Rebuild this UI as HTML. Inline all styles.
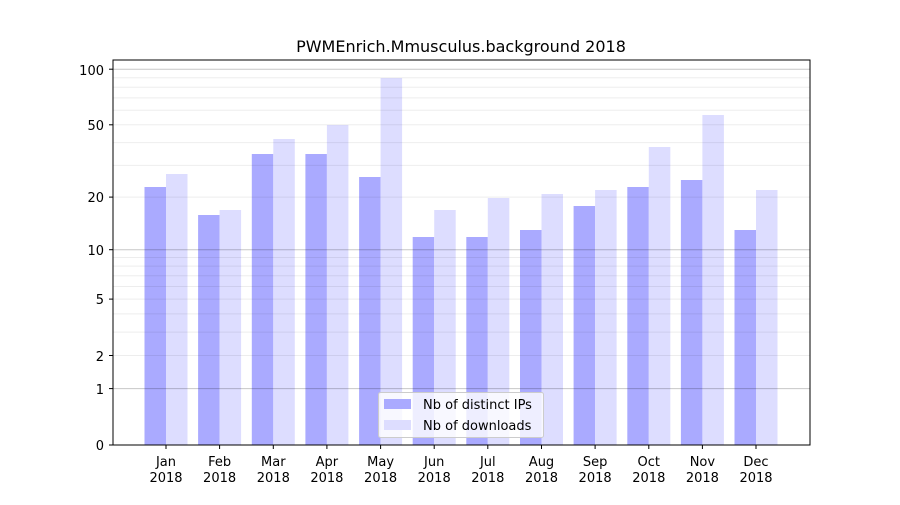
<!DOCTYPE html>
<html><head><meta charset="utf-8"><style>
body{margin:0;background:#fff}
text{font-family:"DejaVu Sans","Liberation Sans",sans-serif;font-size:13px;fill:#000}
</style></head><body>
<svg width="900" height="500" xmlns="http://www.w3.org/2000/svg">
<rect width="900" height="500" fill="#fff"/>
<text x="461" y="52" text-anchor="middle" font-size="16" style="font-size:16px">PWMEnrich.Mmusculus.background 2018</text>
<g>
<!-- bars: tops -->
<g fill="#aaaaff">
<rect x="144.5" y="187" width="21.5" height="258"/>
<rect x="198.1" y="215" width="21.5" height="230"/>
<rect x="251.8" y="154" width="21.5" height="291"/>
<rect x="305.4" y="154" width="21.5" height="291"/>
<rect x="359.1" y="177" width="21.5" height="268"/>
<rect x="412.7" y="237" width="21.5" height="208"/>
<rect x="466.3" y="237" width="21.5" height="208"/>
<rect x="520.0" y="230" width="21.5" height="215"/>
<rect x="573.6" y="206" width="21.5" height="239"/>
<rect x="627.3" y="187" width="21.5" height="258"/>
<rect x="680.9" y="180" width="21.5" height="265"/>
<rect x="734.5" y="230" width="21.5" height="215"/>
</g>
<g fill="#ddddff">
<rect x="166" y="174" width="21.5" height="271"/>
<rect x="219.6" y="210" width="21.5" height="235"/>
<rect x="273.3" y="139" width="21.5" height="306"/>
<rect x="326.9" y="125" width="21.5" height="320"/>
<rect x="380.6" y="78" width="21.5" height="367"/>
<rect x="434.2" y="210" width="21.5" height="235"/>
<rect x="487.8" y="198" width="21.5" height="247"/>
<rect x="541.5" y="194" width="21.5" height="251"/>
<rect x="595.1" y="190" width="21.5" height="255"/>
<rect x="648.8" y="147" width="21.5" height="298"/>
<rect x="702.4" y="115" width="21.5" height="330"/>
<rect x="756.0" y="190" width="21.5" height="255"/>
</g>
<!-- grid -->
<g stroke="#000" stroke-opacity="0.07" stroke-width="1">
<line x1="113" x2="810" y1="355.5" y2="355.5"/><line x1="113" x2="810" y1="332.1" y2="332.1"/>
<line x1="113" x2="810" y1="313.9" y2="313.9"/><line x1="113" x2="810" y1="299.1" y2="299.1"/>
<line x1="113" x2="810" y1="286.5" y2="286.5"/><line x1="113" x2="810" y1="275.7" y2="275.7"/>
<line x1="113" x2="810" y1="266.1" y2="266.1"/><line x1="113" x2="810" y1="257.5" y2="257.5"/>
<line x1="113" x2="810" y1="197.1" y2="197.1"/><line x1="113" x2="810" y1="165.4" y2="165.4"/>
<line x1="113" x2="810" y1="142.6" y2="142.6"/><line x1="113" x2="810" y1="124.8" y2="124.8"/>
<line x1="113" x2="810" y1="110.3" y2="110.3"/><line x1="113" x2="810" y1="97.9" y2="97.9"/>
<line x1="113" x2="810" y1="87.2" y2="87.2"/><line x1="113" x2="810" y1="77.7" y2="77.7"/>
</g>
<g stroke="#000" stroke-opacity="0.22" stroke-width="1">
<line x1="113" x2="810" y1="388.6" y2="388.6"/>
<line x1="113" x2="810" y1="249.7" y2="249.7"/>
<line x1="113" x2="810" y1="69.2" y2="69.2"/>
</g>
<rect x="113" y="60" width="697" height="385" fill="none" stroke="#000" stroke-width="1"/>
<!-- y ticks -->
<g stroke="#000">
<line x1="109" x2="113" y1="445" y2="445"/><line x1="109" x2="113" y1="388.6" y2="388.6"/>
<line x1="109" x2="113" y1="355.5" y2="355.5"/><line x1="109" x2="113" y1="299.1" y2="299.1"/>
<line x1="109" x2="113" y1="249.7" y2="249.7"/><line x1="109" x2="113" y1="197.1" y2="197.1"/>
<line x1="109" x2="113" y1="124.8" y2="124.8"/><line x1="109" x2="113" y1="69.2" y2="69.2"/>
</g>
<g text-anchor="end">
<text x="104" y="450">0</text><text x="104" y="394">1</text><text x="104" y="361">2</text>
<text x="104" y="304">5</text><text x="104" y="255">10</text><text x="104" y="202">20</text>
<text x="104" y="130">50</text><text x="104" y="75">100</text>
</g>
<!-- x ticks -->
<g stroke="#000">
<line x1="166" x2="166" y1="445" y2="449"/><line x1="219.6" x2="219.6" y1="445" y2="449"/>
<line x1="273.3" x2="273.3" y1="445" y2="449"/><line x1="326.9" x2="326.9" y1="445" y2="449"/>
<line x1="380.6" x2="380.6" y1="445" y2="449"/><line x1="434.2" x2="434.2" y1="445" y2="449"/>
<line x1="487.8" x2="487.8" y1="445" y2="449"/><line x1="541.5" x2="541.5" y1="445" y2="449"/>
<line x1="595.1" x2="595.1" y1="445" y2="449"/><line x1="648.8" x2="648.8" y1="445" y2="449"/>
<line x1="702.4" x2="702.4" y1="445" y2="449"/><line x1="756" x2="756" y1="445" y2="449"/>
</g>
<g text-anchor="middle">
<text x="166" y="466">Jan</text><text x="166" y="482">2018</text>
<text x="219.6" y="466">Feb</text><text x="219.6" y="482">2018</text>
<text x="273.3" y="466">Mar</text><text x="273.3" y="482">2018</text>
<text x="326.9" y="466">Apr</text><text x="326.9" y="482">2018</text>
<text x="380.6" y="466">May</text><text x="380.6" y="482">2018</text>
<text x="434.2" y="466">Jun</text><text x="434.2" y="482">2018</text>
<text x="487.8" y="466">Jul</text><text x="487.8" y="482">2018</text>
<text x="541.5" y="466">Aug</text><text x="541.5" y="482">2018</text>
<text x="595.1" y="466">Sep</text><text x="595.1" y="482">2018</text>
<text x="648.8" y="466">Oct</text><text x="648.8" y="482">2018</text>
<text x="702.4" y="466">Nov</text><text x="702.4" y="482">2018</text>
<text x="756" y="466">Dec</text><text x="756" y="482">2018</text>
</g>
<!-- legend -->
<rect x="378.5" y="392.5" width="165" height="45" rx="2" fill="#fff" fill-opacity="0.8" stroke="#ccc"/>
<rect x="384" y="399" width="27" height="10" fill="#aaaaff"/>
<rect x="384" y="420" width="27" height="10" fill="#ddddff"/>
<text x="423" y="409">Nb of distinct IPs</text>
<text x="423" y="430">Nb of downloads</text>
</g>
</svg>
</body></html>
